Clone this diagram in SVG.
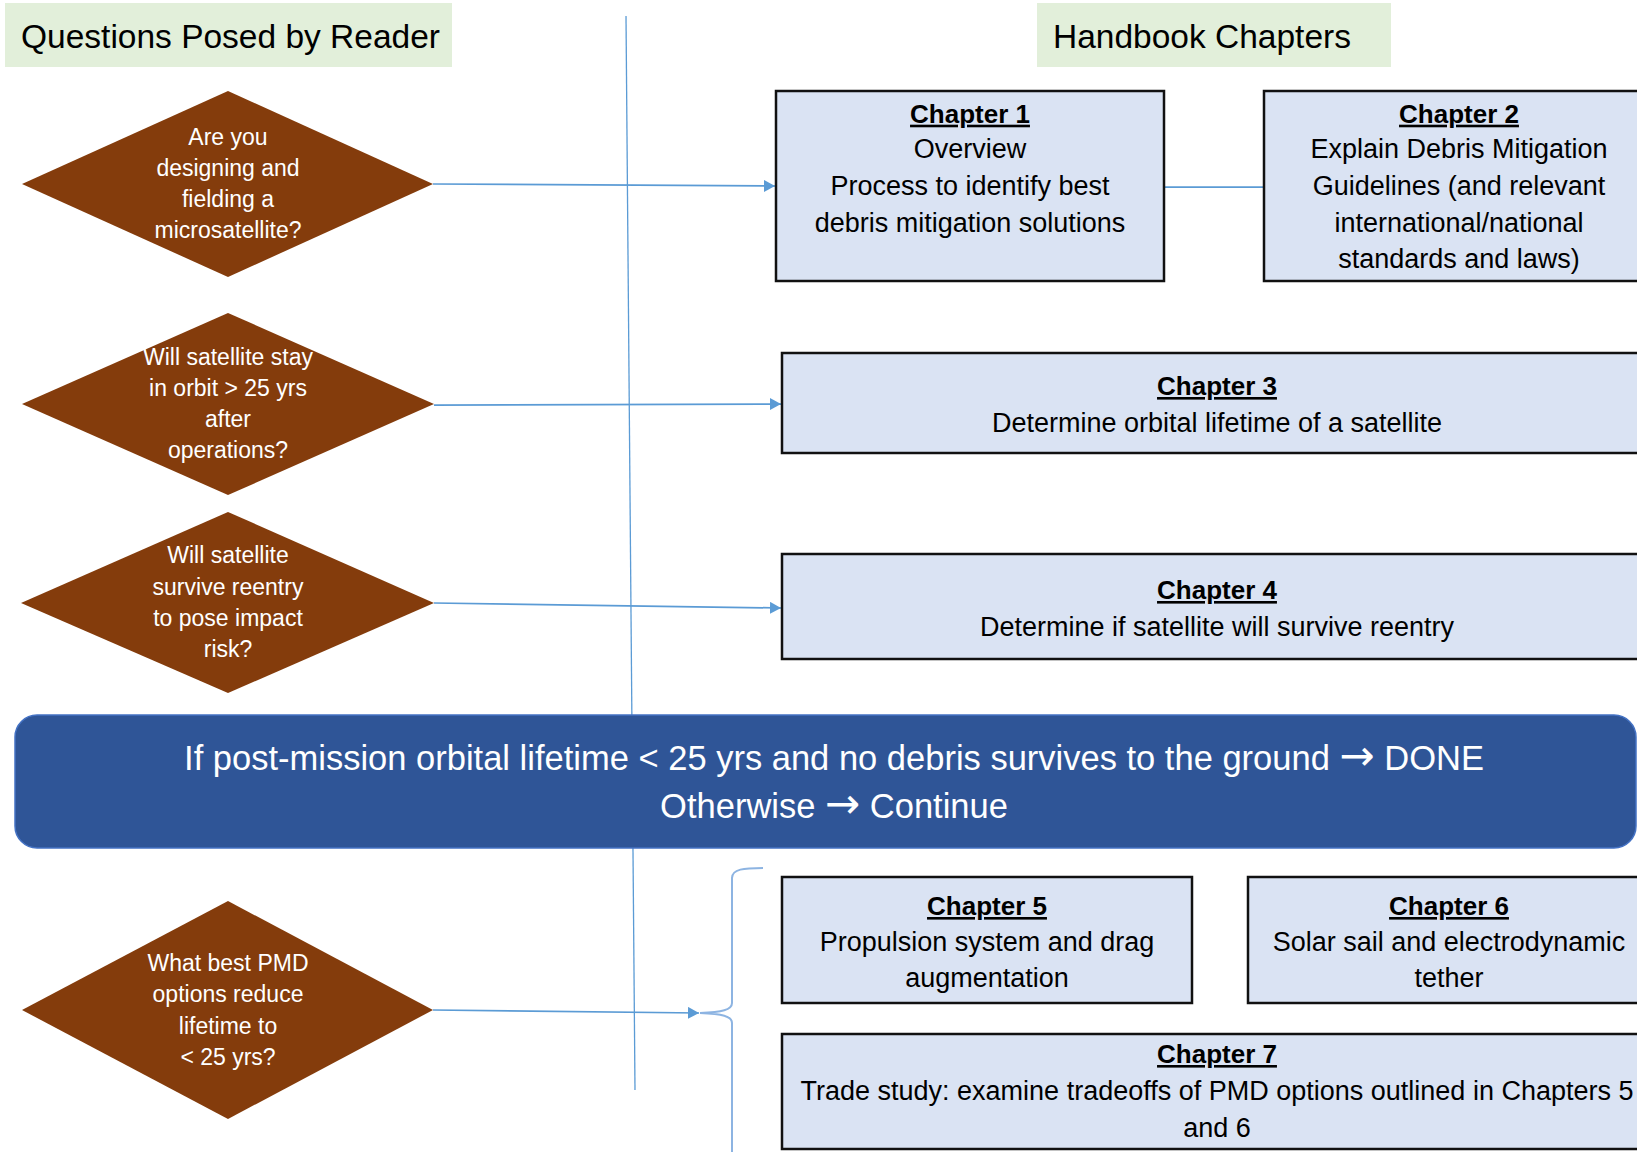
<svg xmlns="http://www.w3.org/2000/svg" width="1637" height="1152" viewBox="0 0 1637 1152">
<defs>
<style>
.hdr{fill:#E2EFDA;}
.hdrt{font-family:"Liberation Sans",Arial,sans-serif;font-size:33.5px;fill:#000;}
.dia{fill:#843C0C;}
.dt{font-family:"Liberation Sans",Arial,sans-serif;font-size:23px;fill:#fff;text-anchor:middle;}
.box{fill:#DAE3F3;stroke:#111;stroke-width:2.5;}
.ttl{font-family:"Liberation Sans",Arial,sans-serif;font-size:26px;font-weight:bold;fill:#000;text-anchor:middle;text-decoration:underline;}
.bt{font-family:"Liberation Sans",Arial,sans-serif;font-size:27px;fill:#000;text-anchor:middle;}
.ban{fill:#2F5597;stroke:#4472C4;stroke-width:1.5;}
.bant{font-family:"Liberation Sans",Arial,sans-serif;font-size:34.5px;fill:#fff;text-anchor:middle;}
.arw{font-family:"DejaVu Sans",sans-serif;font-size:42px;}
.con{stroke:#5B9BD5;stroke-width:1.75;fill:none;}
.div{stroke:#5B9BD5;stroke-width:1.3;fill:none;}
.brace{stroke:#8DB4E2;stroke-width:2;fill:none;}
</style>
<marker id="arr" markerWidth="12" markerHeight="12" refX="11" refY="6" orient="auto" markerUnits="userSpaceOnUse">
<path d="M0,0 L11,6 L0,12 Z" fill="#5B9BD5"/>
</marker>
</defs>
<rect width="1637" height="1152" fill="#fff"/>

<g id="header-questions">
<rect class="hdr" x="5" y="3" width="447" height="64"/>
<text class="hdrt" x="21" y="48">Questions Posed by Reader</text>
</g>
<g id="header-chapters">
<rect class="hdr" x="1037" y="3" width="354" height="64"/>
<text class="hdrt" x="1053" y="48">Handbook Chapters</text>
</g>

<g id="divider">
<line class="div" x1="626" y1="16" x2="635" y2="1090"/>
</g>

<g id="connectors">
<line class="con" x1="433" y1="184" x2="775" y2="186" marker-end="url(#arr)"/>
<line class="con" x1="434" y1="405" x2="781" y2="404" marker-end="url(#arr)"/>
<line class="con" x1="434" y1="603" x2="781" y2="608" marker-end="url(#arr)"/>
<line class="con" x1="433" y1="1010" x2="699" y2="1013" marker-end="url(#arr)"/>
<line class="con" x1="1164" y1="187" x2="1264" y2="187"/>
<path class="brace" d="M763,868 C744,868 732,869 732,878 L732,1003 C732,1010 722,1012 700,1013 C722,1014 732,1016 732,1023 L732,1160"/>
</g>

<g id="q1">
<polygon class="dia" points="228,91 433,184 228,277 22,184"/>
<text class="dt" x="228" y="145">Are you</text>
<text class="dt" x="228" y="176">designing and</text>
<text class="dt" x="228" y="207">fielding a</text>
<text class="dt" x="228" y="238">microsatellite?</text>
</g>
<g id="q2">
<polygon class="dia" points="228,313 434,404 228,495 22,404"/>
<text class="dt" x="228" y="365">Will satellite stay</text>
<text class="dt" x="228" y="396">in orbit &gt; 25 yrs</text>
<text class="dt" x="228" y="427">after</text>
<text class="dt" x="228" y="458">operations?</text>
</g>
<g id="q3">
<polygon class="dia" points="228,512 434,603 228,693 21,603"/>
<text class="dt" x="228" y="563">Will satellite</text>
<text class="dt" x="228" y="595">survive reentry</text>
<text class="dt" x="228" y="626">to pose impact</text>
<text class="dt" x="228" y="657">risk?</text>
</g>
<g id="q4">
<polygon class="dia" points="228,901 433,1010 228,1119 22,1010"/>
<text class="dt" x="228" y="971">What best PMD</text>
<text class="dt" x="228" y="1002">options reduce</text>
<text class="dt" x="228" y="1034">lifetime to</text>
<text class="dt" x="228" y="1065">&lt; 25 yrs?</text>
</g>

<g id="ch1">
<rect class="box" x="776" y="91" width="388" height="190"/>
<text class="ttl" x="970" y="122.7">Chapter 1</text>
<text class="bt" x="970" y="158.3">Overview</text>
<text class="bt" x="970" y="195">Process to identify best</text>
<text class="bt" x="970" y="231.7">debris mitigation solutions</text>
</g>
<g id="ch2">
<rect class="box" x="1264" y="91" width="390" height="190"/>
<text class="ttl" x="1459" y="122.7">Chapter 2</text>
<text class="bt" x="1459" y="158.3">Explain Debris Mitigation</text>
<text class="bt" x="1459" y="195">Guidelines (and relevant</text>
<text class="bt" x="1459" y="231.7">international/national</text>
<text class="bt" x="1459" y="268.3">standards and laws)</text>
</g>
<g id="ch3">
<rect class="box" x="782" y="353" width="870" height="100"/>
<text class="ttl" x="1217" y="395">Chapter 3</text>
<text class="bt" x="1217" y="431.7">Determine orbital lifetime of a satellite</text>
</g>
<g id="ch4">
<rect class="box" x="782" y="554" width="870" height="105"/>
<text class="ttl" x="1217" y="599">Chapter 4</text>
<text class="bt" x="1217" y="635.7">Determine if satellite will survive reentry</text>
</g>

<g id="banner">
<rect class="ban" x="15" y="715" width="1621" height="133" rx="22" ry="22"/>
<text class="bant" x="834" y="770">If post-mission orbital lifetime &lt; 25 yrs and no debris survives to the ground <tspan class="arw">→</tspan> DONE</text>
<text class="bant" x="834" y="817.5">Otherwise <tspan class="arw">→</tspan> Continue</text>
</g>

<g id="ch5">
<rect class="box" x="782" y="877" width="410" height="126"/>
<text class="ttl" x="987" y="915">Chapter 5</text>
<text class="bt" x="987" y="951">Propulsion system and drag</text>
<text class="bt" x="987" y="987">augmentation</text>
</g>
<g id="ch6">
<rect class="box" x="1248" y="877" width="402" height="126"/>
<text class="ttl" x="1449" y="915">Chapter 6</text>
<text class="bt" x="1449" y="951">Solar sail and electrodynamic</text>
<text class="bt" x="1449" y="987">tether</text>
</g>
<g id="ch7">
<rect class="box" x="782" y="1034" width="870" height="115"/>
<text class="ttl" x="1217" y="1063">Chapter 7</text>
<text class="bt" x="1217" y="1100">Trade study: examine tradeoffs of PMD options outlined in Chapters 5</text>
<text class="bt" x="1217" y="1137">and 6</text>
</g>
</svg>
